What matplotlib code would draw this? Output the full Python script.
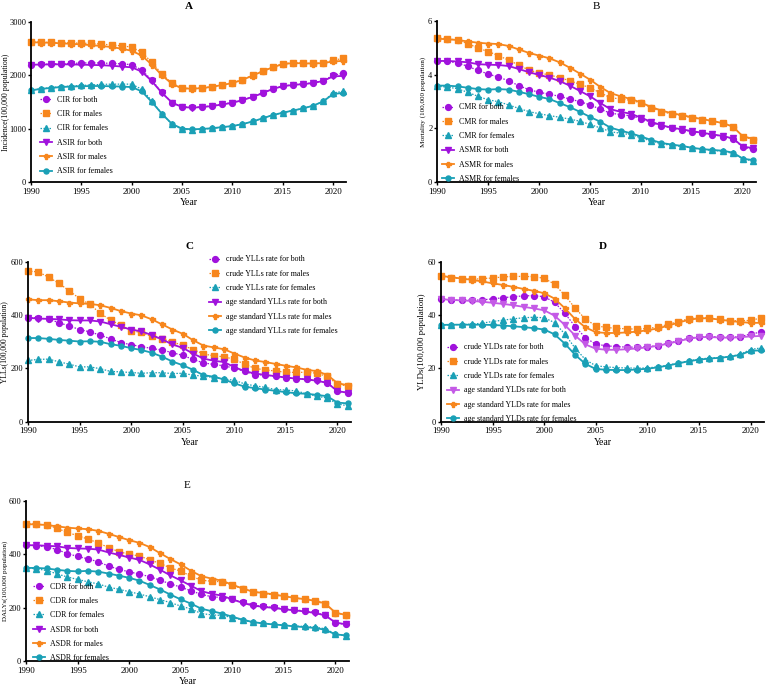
import matplotlib
matplotlib.use('Agg')
import matplotlib.pyplot as plt

plt.rcParams['font.family'] = ['Liberation Serif', 'DejaVu Serif']

# Years shared by every panel
years = list(range(1990, 2022))

# Panel A - incidence
cir_both = [2200, 2205, 2212, 2220, 2225, 2230, 2235, 2230, 2225, 2215, 2200, 2100, 1910, 1680, 1490, 1410,
            1400, 1410, 1430, 1460, 1490, 1540, 1600, 1670, 1750, 1800, 1825, 1840, 1860, 1900, 2000, 2040]
cir_males = [2626, 2622, 2617, 2613, 2608, 2603, 2598, 2585, 2570, 2552, 2530, 2430, 2245, 2025, 1850, 1760,
             1755, 1765, 1790, 1825, 1860, 1920, 2000, 2080, 2160, 2220, 2235, 2230, 2225, 2235, 2280, 2320]
cir_females = [1720, 1750, 1770, 1790, 1800, 1810, 1820, 1830, 1835, 1835, 1835, 1740, 1520, 1280, 1080, 990,
               980, 990, 1005, 1025, 1050, 1085, 1135, 1195, 1255, 1300, 1340, 1380, 1430, 1510, 1670, 1700]
asir_both = [2200, 2202, 2205, 2207, 2205, 2200, 2195, 2190, 2180, 2165, 2150, 2070, 1890, 1670, 1490, 1405,
             1395, 1405, 1425, 1455, 1485, 1535, 1595, 1665, 1745, 1795, 1820, 1835, 1855, 1895, 1980, 1990]
asir_males = [2620, 2615, 2610, 2600, 2590, 2580, 2565, 2550, 2530, 2500, 2460, 2370, 2200, 2000, 1840, 1755,
              1750, 1760, 1785, 1820, 1855, 1915, 1995, 2075, 2150, 2210, 2230, 2225, 2220, 2230, 2260, 2270]
asir_females = [1720, 1745, 1765, 1780, 1790, 1795, 1800, 1800, 1795, 1790, 1780, 1700, 1500, 1280, 1090, 1000,
                990, 995, 1010, 1030, 1050, 1085, 1135, 1195, 1255, 1300, 1340, 1380, 1430, 1510, 1650, 1670]

# Panel B - mortality
cmr_both = [4.52, 4.50, 4.45, 4.32, 4.17, 4.03, 3.92, 3.78, 3.60, 3.45, 3.35, 3.28, 3.20, 3.10, 3.00, 2.88,
            2.72, 2.57, 2.52, 2.47, 2.37, 2.22, 2.10, 2.02, 1.95, 1.88, 1.82, 1.77, 1.70, 1.62, 1.30, 1.22]
cmr_males = [5.38, 5.35, 5.30, 5.17, 5.00, 4.87, 4.72, 4.55, 4.37, 4.18, 4.07, 4.00, 3.90, 3.78, 3.65, 3.52,
             3.33, 3.15, 3.10, 3.05, 2.95, 2.78, 2.62, 2.55, 2.47, 2.40, 2.33, 2.27, 2.20, 2.07, 1.70, 1.58]
cmr_females = [3.57, 3.55, 3.48, 3.35, 3.20, 3.07, 3.00, 2.88, 2.75, 2.63, 2.55, 2.48, 2.42, 2.35, 2.27, 2.15,
               2.02, 1.88, 1.82, 1.77, 1.65, 1.53, 1.43, 1.37, 1.33, 1.27, 1.22, 1.18, 1.15, 1.07, 0.87, 0.78]
asmr_both = [4.52, 4.52, 4.50, 4.47, 4.40, 4.38, 4.37, 4.33, 4.22, 4.10, 4.00, 3.90, 3.77, 3.60, 3.40, 3.20,
             2.95, 2.72, 2.62, 2.55, 2.40, 2.25, 2.12, 2.03, 1.97, 1.90, 1.84, 1.78, 1.72, 1.63, 1.32, 1.27]
asmr_males = [5.35, 5.33, 5.30, 5.25, 5.20, 5.17, 5.15, 5.08, 4.95, 4.82, 4.72, 4.62, 4.47, 4.27, 4.05, 3.82,
              3.55, 3.32, 3.20, 3.10, 2.97, 2.80, 2.67, 2.57, 2.50, 2.42, 2.35, 2.28, 2.20, 2.07, 1.70, 1.62]
asmr_females = [3.60, 3.60, 3.57, 3.52, 3.47, 3.45, 3.47, 3.45, 3.37, 3.28, 3.18, 3.10, 2.95, 2.80, 2.62, 2.43,
                2.25, 2.03, 1.92, 1.82, 1.70, 1.57, 1.46, 1.40, 1.35, 1.28, 1.23, 1.20, 1.17, 1.10, 0.87, 0.82]

# Panel C - YLLs
yll_both = [390, 390, 384, 372, 359, 346, 337, 325, 311, 297, 289, 282, 275, 269, 259, 249,
            234, 221, 215, 210, 201, 189, 177, 175, 171, 166, 162, 160, 155, 146, 115, 109]
yll_males = [565, 562, 542, 519, 491, 462, 440, 407, 381, 362, 341, 335, 320, 311, 299, 287,
             271, 255, 247, 244, 234, 216, 200, 195, 190, 186, 185, 186, 182, 170, 141, 134]
yll_females = [230, 234, 235, 225, 216, 206, 206, 199, 189, 187, 185, 182, 184, 184, 181, 182,
               175, 171, 166, 160, 156, 142, 135, 129, 121, 119, 116, 105, 96, 89, 67, 60]
asyll_both = [390, 387, 386, 384, 381, 380, 380, 376, 366, 356, 346, 339, 325, 309, 290, 277,
              256, 237, 229, 224, 205, 190, 181, 176, 171, 166, 162, 159, 154, 146, 115, 109]
asyll_males = [459, 456, 456, 452, 447, 444, 442, 437, 427, 415, 406, 399, 384, 365, 346, 330,
               306, 286, 279, 272, 256, 241, 230, 224, 217, 210, 204, 195, 190, 176, 145, 137]
asyll_females = [314, 314, 311, 307, 304, 301, 302, 300, 291, 285, 276, 269, 259, 244, 226, 212,
                 195, 175, 169, 159, 144, 132, 126, 121, 116, 111, 107, 105, 101, 96, 72, 69]

# Panel D - YLDs
yld_both = [46.0, 45.7, 45.6, 45.6, 45.7, 46.1, 46.5, 46.9, 47.2, 47.3, 46.9, 44.8, 40.7, 35.7, 31.5, 29.1,
            28.5, 28.2, 28.0, 28.0, 28.1, 28.6, 29.4, 30.4, 31.3, 31.9, 32.0, 31.8, 31.7, 31.9, 32.9, 33.6]
yld_males = [54.7, 54.0, 53.7, 53.4, 53.7, 53.9, 54.3, 54.5, 54.5, 54.4, 53.8, 51.6, 47.4, 42.6, 38.5, 36.0,
             35.4, 35.0, 34.9, 34.7, 35.0, 35.5, 36.5, 37.6, 38.6, 39.1, 38.9, 38.4, 37.9, 37.9, 38.0, 38.9]
yld_females = [36.2, 36.4, 36.5, 36.6, 37.0, 37.6, 38.1, 38.6, 39.0, 39.2, 39.0, 37.2, 32.9, 27.6, 23.3, 21.0,
               20.6, 20.3, 20.2, 20.1, 20.2, 20.6, 21.2, 22.1, 22.8, 23.5, 23.9, 24.1, 24.5, 25.3, 27.1, 27.7]
asyld_both = [46.0, 45.7, 45.5, 45.3, 45.0, 44.6, 44.2, 43.7, 43.1, 42.5, 41.8, 39.8, 36.3, 32.3, 29.0, 27.4,
              27.0, 27.0, 27.2, 27.5, 27.9, 28.5, 29.3, 30.2, 31.1, 31.7, 31.8, 31.6, 31.5, 31.7, 32.0, 32.2]
asyld_males = [54.7, 54.2, 53.7, 53.2, 52.6, 51.9, 51.3, 50.6, 49.8, 49.1, 48.2, 46.2, 42.6, 38.5, 35.4, 33.6,
               33.3, 33.3, 33.5, 33.8, 34.3, 35.0, 36.0, 37.2, 38.2, 38.8, 38.8, 38.3, 37.8, 37.4, 37.1, 37.1]
asyld_females = [36.3, 36.4, 36.4, 36.4, 36.4, 36.3, 36.1, 35.8, 35.5, 35.1, 34.6, 32.8, 29.3, 25.1, 21.7, 19.8,
                 19.5, 19.4, 19.4, 19.6, 19.9, 20.4, 21.1, 21.9, 22.7, 23.3, 23.7, 24.0, 24.4, 25.1, 26.6, 26.8]

# Panel E - DALYs
cdr_both = [434, 433, 428, 418, 403, 392, 383, 372, 356, 344, 334, 326, 316, 303, 289, 277,
            263, 250, 241, 238, 231, 220, 210, 205, 201, 196, 192, 188, 182, 172, 143, 137]
cdr_males = [515, 513, 510, 498, 482, 470, 457, 443, 425, 410, 400, 394, 379, 366, 349, 337,
             318, 303, 299, 297, 284, 271, 260, 253, 248, 242, 237, 231, 225, 213, 181, 172]
cdr_females = [349, 346, 339, 327, 315, 306, 297, 289, 277, 269, 260, 251, 241, 230, 219, 206,
               195, 178, 173, 171, 163, 153, 145, 141, 138, 135, 131, 130, 127, 121, 101, 95]
asdr_both = [434, 434, 432, 430, 424, 422, 421, 418, 407, 398, 388, 379, 362, 342, 321, 302,
             282, 262, 252, 245, 231, 218, 208, 203, 199, 194, 190, 186, 180, 171, 144, 138]
asdr_males = [513, 512, 510, 505, 500, 497, 494, 488, 477, 465, 453, 443, 427, 404, 382, 362,
              338, 318, 309, 301, 286, 272, 260, 255, 250, 243, 237, 232, 226, 216, 181, 173]
asdr_females = [349, 349, 347, 342, 338, 336, 338, 335, 328, 320, 312, 301, 285, 268, 249, 231,
                215, 196, 187, 178, 166, 155, 146, 141, 137, 134, 130, 127, 124, 117, 100, 96]

PURPLE = '#A012DC'
ORANGE = '#F7861C'
TEAL = '#1AA0B6'
DOTTED = (0, (1.2, 1.2))
FIG_W, FIG_H = 767, 687


def draw_panel(ax, title, bold, ylabel, ylabel_size, ylabel_dx, ymax, step, series, labels, legend_anchor,
               both_color=PURPLE):

    # crude rates use dotted lines, age standardized rates use solid lines
    styles = [
        (PURPLE, 'o', DOTTED, 0.9, 4.2),
        (ORANGE, 's', DOTTED, 0.9, 4.2),
        (TEAL, '^', DOTTED, 0.9, 3.8),
        (both_color, 'v', '-', 1.3, 3.8),
        (ORANGE, 'P', '-', 1.3, 3.6),
        (TEAL, 'o', '-', 1.3, 3.6),
    ]
    for values, label, (color, marker, ls, lw, ms) in zip(series, labels, styles):
        ax.plot(years, values, color=color, marker=marker, linestyle=ls, linewidth=lw,
                markersize=ms, label=label, clip_on=False)

    ax.set_xlim(1990, 2021.3)
    ax.set_ylim(0, ymax)
    ax.set_xticks(range(1990, 2021, 5))
    ax.set_yticks([i * step for i in range(int(round(ymax / step)) + 1)])
    ax.spines['top'].set_visible(False)
    ax.spines['right'].set_visible(False)
    ax.spines['left'].set_linewidth(1.3)
    ax.spines['bottom'].set_linewidth(1.3)
    ax.tick_params(axis='x', labelsize=6.5, length=2.5, width=1, pad=1.5)
    ax.tick_params(axis='y', labelsize=6, length=2.5, width=1, pad=1)
    ax.set_xlabel('Year', fontsize=7, labelpad=2)
    ax.set_ylabel(ylabel, fontsize=ylabel_size)
    # place the y label by its pixel distance from the y axis (right edge of the rotated text)
    ax_width_px = ax.get_position().width * FIG_W
    ax.yaxis.set_label_coords(ylabel_dx / ax_width_px, 0.5)
    ax.set_title(title, fontsize=8, fontweight='bold' if bold else 'normal', pad=9)

    ax.legend(loc='upper left', bbox_to_anchor=legend_anchor, frameon=False, fontsize=5.7,
              handlelength=1.5, handletextpad=0.65, labelspacing=0.8, borderpad=0, borderaxespad=0)


fig = plt.figure(figsize=(FIG_W / 100, FIG_H / 100), dpi=100)

# Panel positions in figure fractions (left, bottom, width, height)
ax_a = fig.add_axes([0.0404, 0.735, 0.411, 0.233])
ax_b = fig.add_axes([0.570, 0.735, 0.416, 0.234])
ax_c = fig.add_axes([0.0365, 0.386, 0.421, 0.233])
ax_d = fig.add_axes([0.575, 0.386, 0.421, 0.233])
ax_e = fig.add_axes([0.0339, 0.0378, 0.421, 0.233])

draw_panel(ax_a, 'A', True, 'Incidence(100,000 population)', 5.7, -21, 3000, 1000,
           [cir_both, cir_males, cir_females, asir_both, asir_males, asir_females],
           ['CIR for both', 'CIR for males', 'CIR for females',
            'ASIR for both', 'ASIR for males', 'ASIR for females'],
           (0.029, 0.54))

draw_panel(ax_b, 'B', False, 'Mortality (100,000 population)', 5.2, -11, 6, 2,
           [cmr_both, cmr_males, cmr_females, asmr_both, asmr_males, asmr_females],
           ['CMR for both', 'CMR for males', 'CMR for females',
            'ASMR for both', 'ASMR for males', 'ASMR for females'],
           (0.016, 0.49))

draw_panel(ax_c, 'C', True, 'YLLs(100,000 population)', 5.5, -19, 600, 200,
           [yll_both, yll_males, yll_females, asyll_both, asyll_males, asyll_females],
           ['crude YLLs rate for both', 'crude YLLs rate for males', 'crude YLLs rate for females',
            'age standard YLLs rate for both', 'age standard YLLs rate for males',
            'age standard YLLs rate for females'],
           (0.562, 1.04))

draw_panel(ax_d, 'D', True, 'YLDs(100,000 population)', 6.3, -15.5, 60, 20,
           [yld_both, yld_males, yld_females, asyld_both, asyld_males, asyld_females],
           ['crude YLDs rate for both', 'crude YLDs rate for males', 'crude YLDs rate for females',
            'age standard YLDs rate for both', 'age standard YLDs rate for males',
            'age standard YLDs rate for females'],
           (0.019, 0.49), both_color='#C45AE6')

draw_panel(ax_e, 'E', False, 'DALYs(100,000 population)', 5.0, -18.5, 600, 200,
           [cdr_both, cdr_males, cdr_females, asdr_both, asdr_males, asdr_females],
           ['CDR for both', 'CDR for males', 'CDR for females',
            'ASDR for both', 'ASDR for males', 'ASDR for females'],
           (0.022, 0.49))

plt.savefig('out.png', dpi=100)
